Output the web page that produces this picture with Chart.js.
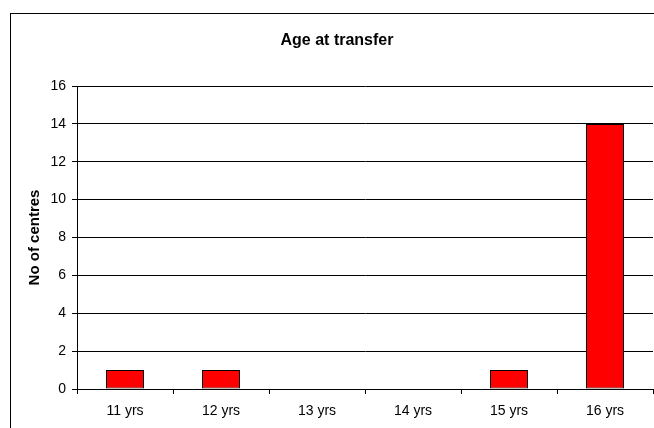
<!DOCTYPE html>
<html>
<head>
<meta charset="utf-8">
<script src="https://cdn.jsdelivr.net/npm/chart.js@4"></script>
<style>
    html, body { margin: 0; padding: 0; background: #fff; overflow: hidden; }
    #wrap { width: 654px; height: 428px; overflow: hidden; }
</style>
</head>
<body>
<div id="wrap"><canvas id="ageChart" width="670" height="428"></canvas></div>
<script>
// Veriler
const chartTitle = 'Age at transfer';
const ageLabels = ['11 yrs', '12 yrs', '13 yrs', '14 yrs', '15 yrs', '16 yrs'];
const centreCounts = [1, 1, 0, 0, 1, 14];
const yTicks = [0, 2, 4, 6, 8, 10, 12, 14, 16];

// dış çerçeve + başlık
const frameBorder = {
    id: 'frameBorder',
    beforeDraw(chart) {
        const ctx = chart.ctx;
        ctx.save();
        ctx.fillStyle = '#fff';
        ctx.fillRect(0, 0, chart.width, chart.height);
        ctx.strokeStyle = '#000';
        ctx.lineWidth = 1;
        ctx.strokeRect(10.5, 13.5, 800, 600);
        ctx.fillStyle = '#000';
        ctx.font = 'bold 16px "Liberation Sans", Arial';
        ctx.textAlign = 'center';
        ctx.textBaseline = 'middle';
        ctx.fillText(chartTitle, 337, 41);
        ctx.restore();
    }
};

const ctx = document.getElementById('ageChart').getContext('2d');
new Chart(ctx, {
    type: 'bar',
    data: {
        labels: ageLabels,
        datasets: [{
            label: 'No of centres',
            data: centreCounts,
            backgroundColor: '#ff0000',
            borderColor: '#000',
            borderWidth: 1,
            borderSkipped: false,
            barPercentage: 38 / 96,
            categoryPercentage: 1
        }]
    },
    options: {
        responsive: false,
        animation: false,
        layout: { padding: { top: 86, left: 0, right: 17, bottom: 0 } },
        plugins: {
            legend: { display: false },
            tooltip: { enabled: false },
            title: { display: false }
        },
        scales: {
            x: {
                afterFit: s => { s.height = 39; },
                grid: { drawOnChartArea: false, drawTicks: true, tickLength: 5, color: '#000', offset: true },
                border: { color: '#000' },
                ticks: { color: '#000', padding: 9, font: { family: 'Liberation Sans, Arial', size: 14 } }
            },
            y: {
                min: 0,
                max: 16,
                afterFit: s => { s.width = 77; },
                afterBuildTicks: s => { s.ticks = yTicks.map(v => ({ value: v })); },
                grid: { color: '#000', tickLength: 5 },
                border: { color: '#000' },
                ticks: { color: '#000', padding: 6, font: { family: 'Liberation Sans, Arial', size: 14 } },
                title: {
                    display: true,
                    text: 'No of centres',
                    color: '#000',
                    font: { family: 'Liberation Sans, Arial', size: 15, weight: 'bold' },
                    padding: { top: 26 }
                }
            }
        }
    },
    plugins: [frameBorder]
});
</script>
</body>
</html>
